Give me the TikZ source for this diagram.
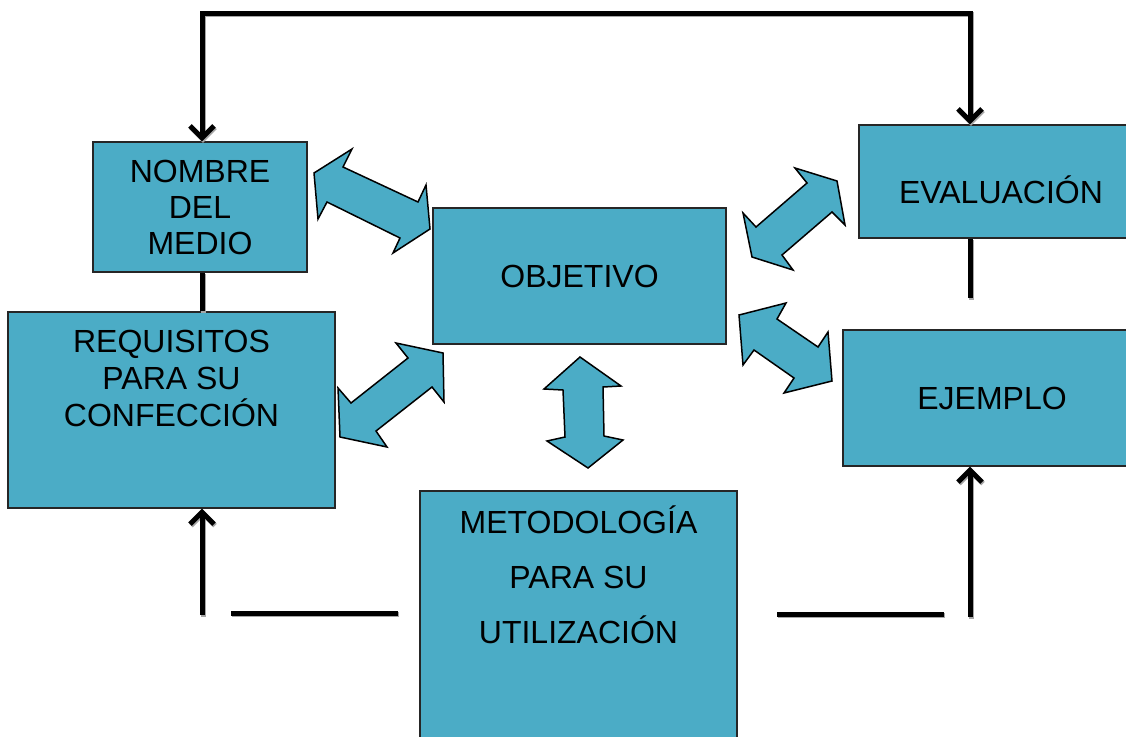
\documentclass[tikz,border=0pt]{standalone}
\usepackage{fontspec}
\setmainfont{Liberation Sans}
\usetikzlibrary{arrows.meta}
\definecolor{azul}{RGB}{75,172,198}

\begin{document}
\begin{tikzpicture}[x=1pt,y=-1pt,
caja/.style={draw=black!85,line width=1.2pt,fill=azul,inner sep=0pt,font=\fontsize{32}{36}\selectfont,align=center},
rotulo/.style={font=\fontsize{32}{37}\selectfont,align=center,inner sep=0pt},
linea/.style={line width=5pt,preaction={draw=black!35,line width=5pt,transform canvas={xshift=1pt,yshift=-1.5pt}}},
bloque/.style={draw=black,line width=1.5pt,fill=azul,line join=miter},
>={Straight Barb[length=12pt,width=24pt]}]
\useasboundingbox (0,0) rectangle (1126,736);
\clip (0,0) rectangle (1126,736);
\node[caja,minimum width=214pt,minimum height=130pt] (nombre) at (200,207) {NOMBRE\\DEL\\MEDIO};
\node[caja,minimum width=327pt,minimum height=196pt,label={[rotulo,yshift=32pt]center:{REQUISITOS\\PARA SU\\CONFECCIÓN}}] (requis) at (171.5,410) {};
\node[caja,minimum width=293pt,minimum height=136pt] (objetivo) at (579.5,276) {OBJETIVO};
\node[caja,minimum width=284pt,minimum height=113pt,label={[rotulo,yshift=-8pt]center:EVALUACIÓN}] (evalua) at (1001,181.5) {};
\node[caja,minimum width=298pt,minimum height=136pt] (ejemplo) at (992,398) {EJEMPLO};
\node[caja,minimum width=317pt,minimum height=280pt,label={[rotulo,font=\fontsize{32}{55}\selectfont,yshift=56pt]center:{METODOLOGÍA\\PARA SU\\UTILIZACIÓN}}] (metodo) at (578.5,631) {};
\coordinate (t1) at (202,13);
\coordinate (t2) at (970,13);
\draw[linea,<->] (nombre.north -| t1) |- (t2) -- (evalua.north -| t2);
\draw[linea] (nombre.south -| t1) -- (requis.north -| t1);
\coordinate (e1) at (970,298);
\draw[linea] (evalua.south -| t2) -- (e1);
\coordinate (b1) at (202,615);
\draw[linea,->] (b1) -- (requis.south -| b1);
\coordinate (h1) at (231,613);
\coordinate (h2) at (398,613);
\draw[linea] (h1) -- (h2);
\coordinate (b2) at (970,617);
\draw[linea,->] (b2) -- (ejemplo.south -| b2);
\coordinate (h3) at (777,614);
\coordinate (h4) at (944,614);
\draw[linea] (h3) -- (h4);
\draw[bloque] (314,173) -- (352,149) -- (343,167) -- (418,202) -- (426,185) -- (430,229) -- (393,253) -- (400,238) -- (327,202) -- (318,219) -- cycle;
\draw[bloque] (396,343) -- (443,353) -- (444,402) -- (432,387) -- (376,431) -- (387,447) -- (340,437) -- (338,388) -- (351,403) -- (408,358) -- cycle;
\draw[bloque] (580,357) -- (621,386) -- (603,387) -- (604,436) -- (623,440) -- (588,468) -- (547,441) -- (565,437) -- (563,390) -- (544,389) -- cycle;
\draw[bloque] (795,168) -- (837,181) -- (845,225) -- (832,212) -- (782,255) -- (793,270) -- (752,257) -- (743,213) -- (756,227) -- (807,183) -- cycle;
\draw[bloque] (739,315) -- (786,303) -- (777,319) -- (818,347) -- (828,332) -- (832,381) -- (784,393) -- (794,378) -- (754,350) -- (743,365) -- cycle;
\end{tikzpicture}
\end{document}
